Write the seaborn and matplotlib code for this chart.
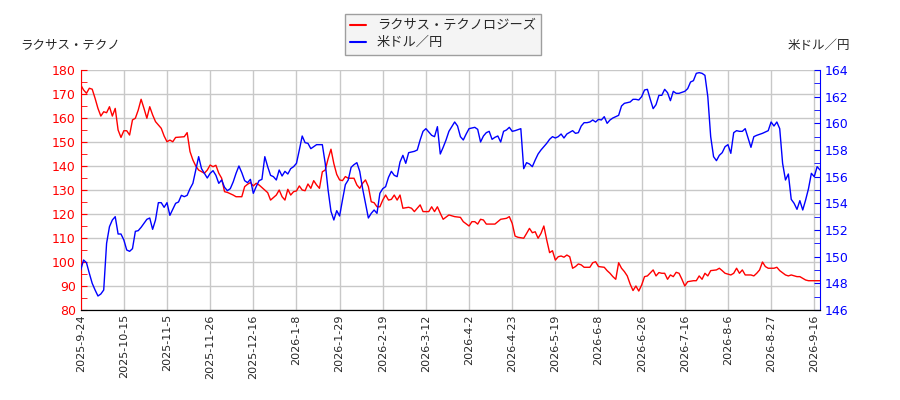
import matplotlib
matplotlib.use("Agg")
import matplotlib.pyplot as plt
from matplotlib.ticker import MultipleLocator
from matplotlib.lines import Line2D
import pandas as pd
import seaborn as sns

# trading-day index -> value (vertices)
red_idx = [0, 1, 2, 3, 4, 5, 6, 7, 8, 9, 10, 11, 12, 13, 14, 15, 16, 17, 18, 19, 20,
           21, 22, 23, 24, 25, 26, 28, 29, 30, 31, 32, 33, 36, 37, 38, 39, 40, 41, 43,
           44, 45, 46, 47, 48, 49, 50, 51, 53, 54, 56, 57, 58, 59, 60, 61, 62, 64, 65,
           66, 68, 69, 70, 71, 72, 73, 74, 75, 76, 77, 78, 79, 80, 81, 82, 83, 84, 85,
           86, 87, 88, 89, 90, 91, 92, 93, 94, 95, 96, 97, 98, 99, 100, 101, 102, 103,
           104, 105, 106, 107, 108, 109, 110, 111, 112, 114, 115, 116, 118, 119, 121,
           122, 123, 124, 125, 126, 128, 130, 132, 133, 135, 136, 137, 138, 139, 140,
           141, 144, 146, 148, 149, 150, 151, 152, 154, 155, 156, 157, 158, 159, 160,
           161, 162, 163, 164, 165, 166, 167, 168, 169, 170, 171, 172, 173, 174, 175,
           177, 178, 179, 180, 182, 183, 184, 185, 186, 187, 188, 189, 190, 191, 192,
           193, 194, 195, 196, 197, 199, 200, 201, 202, 203, 204, 205, 206, 207, 208,
           209, 210, 211, 213, 214, 215, 216, 217, 218, 219, 221, 222, 223, 224, 226,
           227, 228, 229, 230, 231, 233, 234, 235, 236, 237, 238, 239, 241, 242, 243,
           245, 246, 247, 249, 250, 251, 252, 253, 255, 257]
red_vals = [173.8, 171.7, 170.3, 172.4, 172.0, 168.2, 164.0, 160.8, 162.6, 162.2, 164.7,
            160.8, 164.0, 155.0, 151.9, 154.7, 154.7, 152.9, 159.2, 159.9, 163.3, 167.8,
            164.0, 159.9, 164.7, 161.3, 158.5, 155.7, 152.5, 150.1, 150.8, 150.1, 151.9,
            152.2, 153.9, 146.0, 142.5, 140.0, 138.3, 137.0, 138.3, 140.4, 139.7, 140.3,
            137.0, 134.9, 129.3, 129.0, 127.9, 127.2, 127.2, 131.4, 132.4, 133.1, 131.7,
            132.8, 132.1, 130.0, 128.9, 125.8, 127.9, 130.0, 127.2, 125.8, 130.3, 127.9,
            129.3, 129.6, 131.7, 130.0, 129.7, 132.5, 130.7, 133.9, 132.1, 130.7, 137.6,
            138.3, 143.0, 147.0, 141.0, 136.5, 134.2, 133.9, 135.6, 134.9, 134.9, 134.9,
            132.1, 130.7, 132.8, 134.2, 131.4, 125.1, 124.7, 123.0, 123.0, 125.8, 127.9,
            125.8, 126.1, 127.9, 125.8, 127.9, 122.4, 122.8, 122.4, 121.0, 123.8, 121.0,
            121.0, 123.0, 121.0, 123.0, 120.3, 117.8, 119.6, 118.9, 118.6, 116.8, 115.0,
            116.8, 116.8, 115.8, 117.8, 117.5, 115.8, 115.8, 117.8, 118.2, 118.9, 116.1,
            110.8, 110.3, 109.9, 111.9, 114.0, 112.2, 112.6, 109.9, 111.9, 115.0, 109.2,
            103.9, 104.7, 100.8, 102.2, 102.5, 102.0, 102.9, 102.2, 97.4, 98.1, 99.2,
            98.8, 97.8, 97.8, 99.7, 100.1, 98.1, 97.8, 96.4, 95.3, 93.9, 92.8, 99.7,
            97.4, 96.0, 94.2, 90.8, 88.1, 90.0, 87.9, 90.4, 93.9, 94.2, 96.7, 94.2,
            95.6, 95.3, 95.3, 92.8, 94.6, 93.9, 95.7, 95.3, 92.8, 90.0, 91.8, 92.2,
            92.2, 94.2, 92.8, 95.3, 94.2, 96.4, 96.7, 97.4, 96.4, 95.3, 94.6, 95.3,
            97.4, 95.3, 96.7, 94.6, 94.6, 94.2, 95.3, 96.7, 100.0, 98.1, 97.4, 97.4,
            97.8, 96.4, 94.6, 94.2, 94.6, 93.9, 93.9, 93.2, 92.5, 92.2, 92.2, 92.2]

blue_idx = [0, 1, 2, 3, 4, 5, 6, 7, 8, 9, 10, 11, 12, 13, 14, 15, 16, 17, 18, 19, 20,
            21, 22, 23, 24, 25, 26, 27, 28, 29, 30, 31, 32, 33, 34, 35, 36, 37, 38, 39,
            40, 41, 42, 43, 44, 45, 46, 47, 48, 49, 50, 51, 52, 53, 54, 55, 56, 57, 58,
            59, 60, 61, 62, 63, 64, 65, 66, 67, 68, 69, 70, 71, 72, 73, 74, 75, 76, 77,
            78, 79, 80, 82, 83, 84, 85, 86, 87, 88, 89, 90, 91, 92, 93, 94, 95, 96, 97,
            98, 99, 100, 101, 102, 103, 104, 105, 106, 107, 108, 109, 110, 111, 112,
            113, 114, 116, 117, 118, 119, 120, 122, 123, 124, 125, 126, 127, 128, 129,
            130, 131, 132, 133, 134, 135, 137, 138, 139, 140, 141, 142, 143, 144, 145,
            146, 147, 148, 149, 150, 151, 153, 154, 155, 156, 157, 158, 159, 160, 162,
            163, 164, 165, 166, 167, 168, 169, 171, 172, 173, 174, 175, 176, 177, 178,
            179, 180, 181, 182, 183, 184, 185, 186, 187, 188, 189, 190, 191, 192, 193,
            194, 195, 196, 197, 198, 199, 200, 201, 202, 203, 204, 205, 206, 207, 208,
            210, 211, 212, 213, 214, 215, 216, 217, 218, 219, 220, 221, 222, 223, 224,
            225, 226, 227, 228, 229, 230, 231, 232, 233, 234, 235, 237, 239, 240, 241,
            242, 243, 244, 245, 246, 247, 248, 249, 250, 251, 252, 253, 254, 255, 256,
            257]
blue_vals = [149.0, 149.75, 149.55, 148.75, 148.0, 147.5, 147.05, 147.2, 147.5, 151.0,
             152.25, 152.75, 153.0, 151.7, 151.7, 151.25, 150.5, 150.4, 150.6, 151.9,
             151.95, 152.2, 152.5, 152.8, 152.9, 152.05, 152.75, 154.05, 154.05, 153.7,
             154.05, 153.1, 153.55, 154.0, 154.1, 154.6, 154.5, 154.6, 155.1, 155.5,
             156.5, 157.5, 156.6, 156.25, 155.9, 156.25, 156.45, 156.1, 155.5, 155.75,
             155.2, 154.95, 155.1, 155.6, 156.25, 156.8, 156.3, 155.7, 155.55, 155.8,
             154.75, 155.25, 155.7, 155.8, 157.5, 156.75, 156.1, 156.0, 155.75, 156.5,
             156.05, 156.4, 156.2, 156.6, 156.75, 157.0, 158.0, 159.05, 158.55, 158.5,
             158.1, 158.4, 158.4, 158.4, 157.0, 155.0, 153.4, 152.75, 153.45, 153.05,
             154.25, 155.4, 155.75, 156.7, 156.9, 157.05, 156.4, 155.1, 154.0, 152.9,
             153.25, 153.5, 153.25, 154.75, 155.1, 155.25, 155.95, 156.4, 156.1, 156.0,
             157.1, 157.6, 157.0, 157.8, 157.9, 158.0, 158.75, 159.4, 159.6, 159.1,
             159.0, 159.75, 157.7, 158.2, 158.75, 159.4, 159.75, 160.1, 159.8, 159.0,
             158.75, 159.2, 159.6, 159.7, 159.55, 158.6, 159.05, 159.3, 159.4, 158.8,
             158.95, 159.05, 158.6, 159.4, 159.5, 159.7, 159.4, 159.45, 159.6, 156.6,
             157.05, 156.95, 156.75, 157.25, 157.7, 158.0, 158.5, 158.8, 159.0, 158.9,
             159.0, 159.2, 158.9, 159.2, 159.45, 159.25, 159.3, 159.8, 160.05, 160.05,
             160.1, 160.25, 160.1, 160.3, 160.25, 160.5, 160.0, 160.25, 160.4, 160.5,
             160.6, 161.3, 161.5, 161.55, 161.6, 161.8, 161.8, 161.75, 162.0, 162.5,
             162.55, 161.8, 161.1, 161.4, 162.1, 162.1, 162.55, 162.3, 161.7, 162.4,
             162.25, 162.25, 162.4, 162.6, 163.1, 163.2, 163.75, 163.8, 163.75, 163.6,
             162.0, 159.0, 157.5, 157.2, 157.6, 157.8, 158.25, 158.4, 157.75, 159.3,
             159.45, 159.4, 159.4, 159.6, 158.9, 158.2, 159.0, 159.1, 159.25, 159.45,
             160.1, 159.8, 160.1, 159.6, 157.0, 155.75, 156.2, 154.3, 154.0, 153.55,
             154.2, 153.5, 154.25, 155.1, 156.25, 156.0, 156.75, 156.5]

tick_labels = ["2025-9-24", "2025-10-15", "2025-11-5", "2025-11-26", "2025-12-16",
               "2026-1-8", "2026-1-29", "2026-2-19", "2026-3-12", "2026-4-2",
               "2026-4-23", "2026-5-19", "2026-6-8", "2026-6-26", "2026-7-16",
               "2026-8-6", "2026-8-27", "2026-9-16"]

red_name = "ラクサス・テクノロジーズ"
blue_name = "米ドル／円"

sns.set_style("white")
plt.rcParams['font.family'] = ['DejaVu Sans', 'Noto Sans CJK JP']
jp = ['Noto Sans CJK JP', 'DejaVu Sans']

red_df = pd.DataFrame({"idx": red_idx, "val": red_vals})
blue_df = pd.DataFrame({"idx": blue_idx, "val": blue_vals})

fig, ax = plt.subplots(figsize=(9, 4), dpi=100)
fig.subplots_adjust(left=80.7 / 900, right=820 / 900, top=1 - 70 / 400, bottom=1 - 310 / 400)
ax2 = ax.twinx()

sns.lineplot(data=red_df, x="idx", y="val", ax=ax, color="#ff0000", lw=1)
sns.lineplot(data=blue_df, x="idx", y="val", ax=ax2, color="#0000ff", lw=1)

ax.set_xlim(0, 257)
ax.set_ylim(80, 180)
ax2.set_ylim(146, 164)
ax.set_xticks(range(0, 15 * len(tick_labels), 15))
ax.set_xticklabels(tick_labels, rotation=90, fontsize=8)
ax.yaxis.set_major_locator(MultipleLocator(10))
ax.yaxis.set_minor_locator(MultipleLocator(5))
ax2.yaxis.set_major_locator(MultipleLocator(2))
ax2.yaxis.set_minor_locator(MultipleLocator(1))

ax.grid(True, color="#c8c8c8", lw=1)
ax.set_axisbelow(True)
ax.set_xlabel("")
ax.set_ylabel("")
ax2.set_ylabel("")

ax.tick_params(axis="x", direction="in", length=4, color="black", labelsize=8, pad=3)
ax.tick_params(axis="y", which="both", direction="in", color="#ff0000",
               labelcolor="#ff0000", labelsize=9, length=4)
ax2.tick_params(axis="y", which="both", direction="in", color="#0000ff",
                labelcolor="#0000ff", labelsize=9, length=4)

for a in (ax, ax2):
    a.spines["top"].set_visible(False)
ax.spines["left"].set_color("#ff0000")
ax.spines["right"].set_visible(False)
ax2.spines["left"].set_visible(False)
ax2.spines["right"].set_color("#0000ff")
ax2.spines["bottom"].set_color("black")
ax.spines["bottom"].set_color("black")

fig.text(20 / 900, 1 - 45 / 400, "ラクサス・テクノ", fontsize=9, family=jp,
         ha="left", va="center")
fig.text(850 / 900, 1 - 45 / 400, "米ドル／円", fontsize=9, family=jp,
         ha="right", va="center")

handles = [Line2D([], [], color="#ff0000", lw=1.5),
           Line2D([], [], color="#0000ff", lw=1.5)]
leg = fig.legend(handles, [red_name, blue_name], loc="upper center",
                 bbox_to_anchor=(443 / 900, 1 - 14 / 400), frameon=True,
                 fancybox=False, edgecolor="#888888", facecolor="#f2f2f2",
                 handlelength=1.2, prop={"family": jp, "size": 9.5},
                 borderpad=0.4, labelspacing=0.3, borderaxespad=0)
leg.get_frame().set_linewidth(1)

fig.savefig("out.png", dpi=100)
